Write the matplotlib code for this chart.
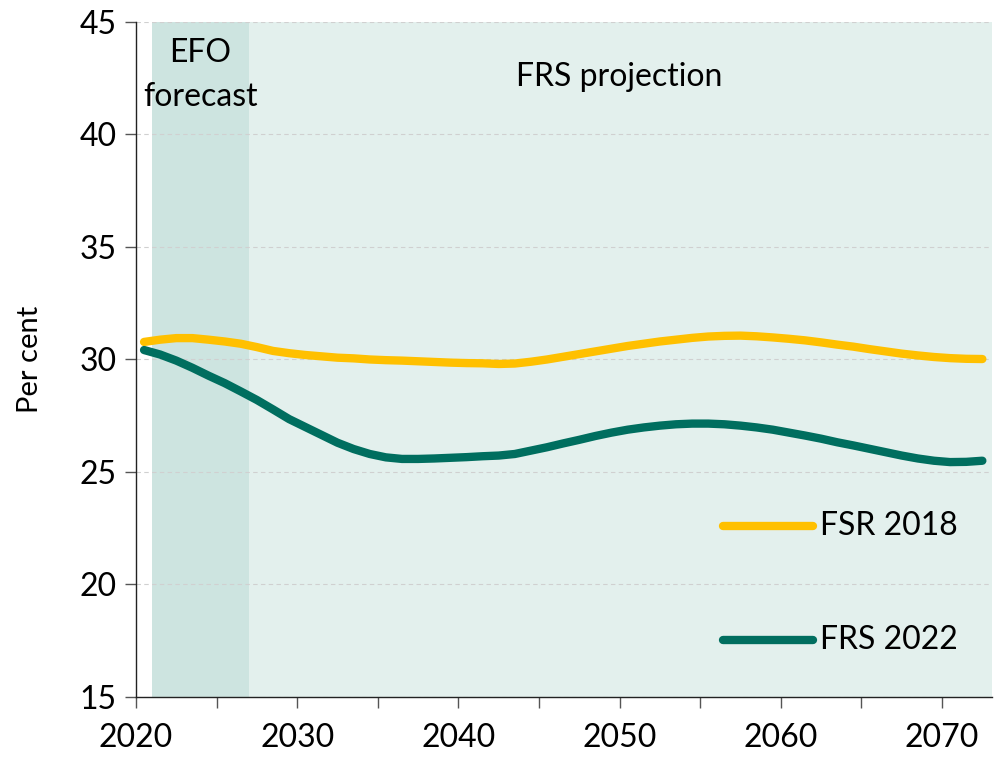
import matplotlib
matplotlib.use("Agg")
import matplotlib.pyplot as plt
from matplotlib.ticker import MultipleLocator

plt.rcParams["font.family"] = ["Lato", "DejaVu Sans"]

years = [2020.5 + i for i in range(53)]

fsr_2018 = [30.78, 30.88, 30.95, 30.95, 30.88, 30.80, 30.70, 30.55, 30.38, 30.28,
            30.20, 30.14, 30.08, 30.05, 30.00, 29.97, 29.95, 29.92, 29.89, 29.86,
            29.84, 29.83, 29.80, 29.82, 29.90, 30.00, 30.12, 30.24, 30.36, 30.48,
            30.60, 30.70, 30.80, 30.88, 30.96, 31.02, 31.05, 31.06, 31.03, 30.98,
            30.92, 30.85, 30.76, 30.66, 30.57, 30.46, 30.36, 30.26, 30.18, 30.11,
            30.06, 30.03, 30.02]

frs_2022 = [30.42, 30.22, 29.95, 29.63, 29.28, 28.95, 28.58, 28.20, 27.78, 27.35,
            27.00, 26.65, 26.30, 26.02, 25.80, 25.65, 25.58, 25.58, 25.60, 25.63,
            25.66, 25.70, 25.73, 25.80, 25.95, 26.10, 26.27, 26.43, 26.60, 26.75,
            26.88, 26.98, 27.06, 27.12, 27.15, 27.15, 27.12, 27.06, 26.98, 26.88,
            26.75, 26.62, 26.48, 26.32, 26.18, 26.03, 25.88, 25.73, 25.60, 25.50,
            25.44, 25.45, 25.50]

efo_period = (2021.0, 2027.0)
frs_period = (2027.0, 2073.1)

yellow = "#FFC000"
green = "#006E5F"

fig = plt.figure(figsize=(9.97, 7.6), dpi=100)
ax = fig.add_axes([0.1364, 0.0829, 0.8586, 0.8882])

ax.axvspan(*efo_period, color="#CDE4E0", lw=0, zorder=0)
ax.axvspan(*frs_period, color="#E3F0ED", lw=0, zorder=0)

ax.plot(years, fsr_2018, color=yellow, lw=6, solid_capstyle="round", zorder=3)
ax.plot(years, frs_2022, color=green, lw=6, solid_capstyle="round", zorder=3)

ax.set_xlim(2020, 2073.1)
ax.set_ylim(15, 45)
ax.xaxis.set_major_locator(MultipleLocator(10))
ax.xaxis.set_minor_locator(MultipleLocator(5))
ax.yaxis.set_major_locator(MultipleLocator(5))

ax.grid(axis="y", color="#D0D0D0", lw=0.8, ls=(0, (4, 3)))
for s in ["top", "right"]:
    ax.spines[s].set_visible(False)
for s in ["left", "bottom"]:
    ax.spines[s].set_linewidth(1.0)
    ax.spines[s].set_color("#222222")

ax.tick_params(axis="both", which="both", length=8, width=1, color="#555555",
               labelsize=23, pad=6)
ax.tick_params(axis="x", pad=11)
ax.set_ylabel("Per cent", fontsize=21, labelpad=26)

ax.text(2024, 43.6, "EFO", ha="center", va="center", fontsize=23)
ax.text(2024, 41.65, "forecast", ha="center", va="center", fontsize=23)
ax.text(2050, 42.55, "FRS projection", ha="center", va="center", fontsize=23)

# legend keys
ax.plot([2056.4, 2062.0], [22.6, 22.6], color=yellow, lw=6, solid_capstyle="round")
ax.plot([2056.4, 2062.0], [17.53, 17.53], color=green, lw=6, solid_capstyle="round")
ax.text(2062.4, 22.6, "FSR 2018", va="center", ha="left", fontsize=23)
ax.text(2062.4, 17.53, "FRS 2022", va="center", ha="left", fontsize=23)

fig.savefig("out.png", dpi=100)
